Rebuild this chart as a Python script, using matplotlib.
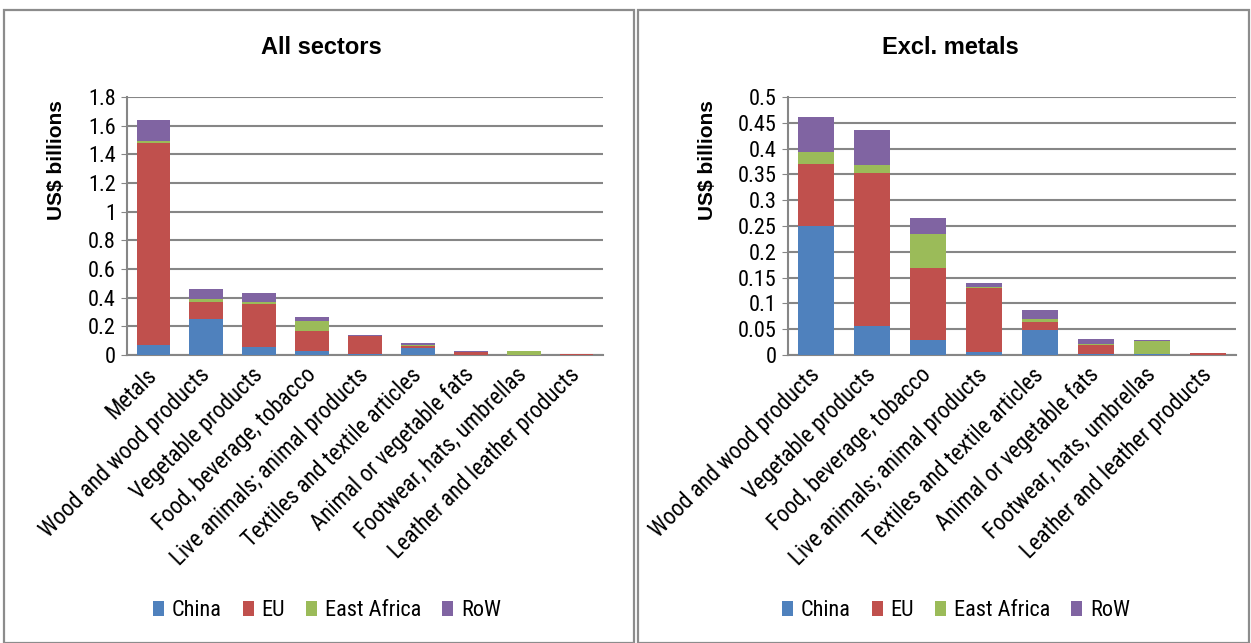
import matplotlib
matplotlib.use("Agg")
import matplotlib.pyplot as plt
from matplotlib.patches import Rectangle
import numpy as np

COND = ['Roboto Condensed', 'Liberation Sans', 'DejaVu Sans']
ARIAL = ['Liberation Sans', 'DejaVu Sans']
plt.rcParams['font.family'] = COND

series = ["China", "EU", "East Africa", "RoW"]
colors = ["#4F81BD", "#C0504D", "#9BBB59", "#8064A2"]

cats_all = ["Metals", "Wood and wood products", "Vegetable products", "Food, beverage, tobacco",
            "Live animals; animal products", "Textiles and textile articles",
            "Animal or vegetable fats", "Footwear, hats, umbrellas", "Leather and leather products"]
china_all = [0.07, 0.25, 0.056, 0.029, 0.005, 0.049, 0.002, 0.001, 0.0005]
eu_all = [1.41, 0.121, 0.297, 0.139, 0.125, 0.014, 0.017, 0.001, 0.003]
ea_all = [0.012, 0.022, 0.015, 0.066, 0.002, 0.007, 0.003, 0.026, 0.0]
row_all = [0.146, 0.068, 0.068, 0.032, 0.008, 0.017, 0.009, 0.002, 0.0005]

cats_ex = cats_all[1:]
china_ex = china_all[1:]
eu_ex = eu_all[1:]
ea_ex = ea_all[1:]
row_ex = row_all[1:]

W, H = 1251, 643
fig = plt.figure(figsize=(W/100, H/100), dpi=100)

def fx(px): return px / W
def fy(py): return 1 - py / H

# panel borders
for x0, x1 in [(4, 634), (638, 1249)]:
    fig.add_artist(Rectangle((fx(x0), fy(643)), fx(x1 - x0), fy(10) - fy(643),
                             transform=fig.transFigure, fill=False,
                             edgecolor="#8c8c8c", linewidth=1.6))

def fmt(t):
    return f"{t:.2f}".rstrip('0').rstrip('.')

def panel(ax, cats, data, ymax, step, title, title_x):
    x = np.arange(len(cats))
    bottom = np.zeros(len(cats))
    for vals, c, name in zip(data, colors, series):
        ax.bar(x, vals, 0.64, bottom=bottom, color=c, label=name, zorder=3)
        bottom += np.array(vals)
    ax.set_xlim(-0.5, len(cats) - 0.5)
    ax.set_ylim(0, ymax)
    ticks = np.arange(0, ymax + step / 2, step)
    ax.set_yticks(ticks)
    ax.set_yticklabels([fmt(t) for t in ticks], fontsize=16)
    ax.yaxis.grid(True, color="#868686", linewidth=1.5, zorder=0)
    ax.set_axisbelow(True)
    for s in ["top", "right"]:
        ax.spines[s].set_visible(False)
    for s in ["left", "bottom"]:
        ax.spines[s].set_color("#868686")
        ax.spines[s].set_linewidth(1.5)
    ax.tick_params(axis='y', length=4, color="#868686", pad=4)
    ax.tick_params(axis='x', length=0, pad=12)
    ax.set_xticks(x)
    ax.set_xticklabels(cats, rotation=45, ha='right', va='center', rotation_mode='anchor', fontsize=16.5)
    ax.set_ylabel("US$ billions", fontsize=15, fontweight='bold', family=ARIAL)
    fig.text(fx(title_x), fy(48), title, fontsize=17, fontweight='bold', family=ARIAL,
             ha='center', va='center')

ax1 = fig.add_axes([fx(127), fy(355), fx(603 - 127), fy(97) - fy(355)])
panel(ax1, cats_all, [china_all, eu_all, ea_all, row_all], 1.8, 0.2, "All sectors", 321)

ax2 = fig.add_axes([fx(788), fy(355), fx(1236 - 788), fy(97) - fy(355)])
panel(ax2, cats_ex, [china_ex, eu_ex, ea_ex, row_ex], 0.5, 0.05, "Excl. metals", 950)

ax1.yaxis.set_label_coords((66 - 127) / (603 - 127), (355 - 160) / 258)
ax2.yaxis.set_label_coords((717 - 788) / (1236 - 788), (355 - 160) / 258)

for ax, cx in [(ax1, 327), (ax2, 956)]:
    h, l = ax.get_legend_handles_labels()
    fig.legend(h, l, loc='center', bbox_to_anchor=(fx(cx), fy(611)), ncol=4, frameon=False,
               fontsize=16, handlelength=0.5, handleheight=0.65, handletextpad=0.35,
               columnspacing=0.95)

fig.savefig("out.png", dpi=100)
